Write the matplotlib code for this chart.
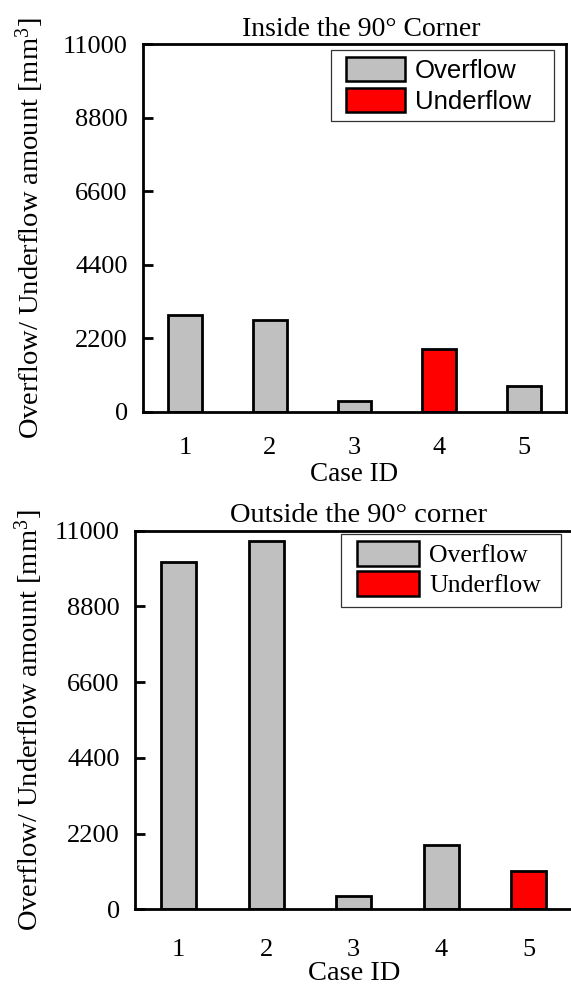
import matplotlib
matplotlib.use("Agg")
import matplotlib.pyplot as plt
from matplotlib.patches import Patch, Rectangle

plt.rcParams['font.family'] = ['Liberation Serif', 'DejaVu Serif']
plt.rcParams['mathtext.fontset'] = 'custom'
plt.rcParams['mathtext.rm'] = 'Liberation Serif'
plt.rcParams['mathtext.it'] = 'Liberation Serif:italic'

# Data
case_ids = [1, 2, 3, 4, 5]
inside_values = [2900, 2750, 330, 1890, 770]
inside_kind = ['Overflow', 'Overflow', 'Overflow', 'Underflow', 'Overflow']
outside_values = [10080, 10690, 400, 1885, 1110]
outside_kind = ['Overflow', 'Overflow', 'Overflow', 'Overflow', 'Underflow']
y_ticks = [0, 2200, 4400, 6600, 8800, 11000]

colors = {'Overflow': '#C0C0C0', 'Underflow': '#FF0000'}
ylabel = 'Overflow/ Underflow amount [mm$^{3}$]'

fig = plt.figure(figsize=(5.71, 9.85), dpi=100)
ax1 = fig.add_axes([0.2504, 0.582, 0.7408, 0.3733])
ax2 = fig.add_axes([0.2364, 0.0767, 0.7662, 0.3847])


def draw_panel(ax, values, kinds, title, title_x, title_fs, xpad, xlabel_fs, xlabel_pad,
               label_x, leg_opts, frame):
    ax.bar(case_ids, values, width=0.4, color=[colors[k] for k in kinds],
           edgecolor='black', linewidth=2.0, zorder=2)
    ax.set_xlim(0.5, 5.5)
    ax.set_ylim(0, 11000)
    ax.set_yticks(y_ticks)
    ax.set_xticks(case_ids)
    ax.tick_params(axis='y', direction='in', length=7, width=2, pad=11, labelsize=19)
    ax.tick_params(axis='x', length=0, pad=xpad, labelsize=19)
    for s in ax.spines.values():
        s.set_linewidth(2)
    ax.set_title(title, fontsize=title_fs, pad=6, x=title_x)
    ax.set_xlabel('Case ID', fontsize=xlabel_fs, labelpad=xlabel_pad)
    ax.set_ylabel(ylabel, fontsize=20.5)
    ax.yaxis.set_label_coords(label_x, 0.5)

    # legend frame drawn separately so the padding can match the original
    x0, y0, x1, y1 = frame
    ax.add_patch(Rectangle((x0, y0), x1 - x0, y1 - y0, transform=ax.transAxes,
                           facecolor='white', edgecolor='#333333', linewidth=0.9,
                           zorder=4, clip_on=False))
    handles = [Patch(facecolor=colors['Overflow'], edgecolor='black', linewidth=1.8, label='Overflow'),
               Patch(facecolor=colors['Underflow'], edgecolor='black', linewidth=1.8, label='Underflow')]
    leg = ax.legend(handles=handles, loc='upper left', borderaxespad=0, borderpad=0,
                    frameon=False, handletextpad=0.4, **leg_opts)
    leg.set_zorder(5)


draw_panel(ax1, inside_values, inside_kind, 'Inside the 90° Corner', 0.515, 20, 18, 19.5, 2,
           -0.229,
           dict(bbox_to_anchor=(0.480, 0.9638), prop={'family': 'Liberation Sans', 'size': 18.5},
                handlelength=2.28, handleheight=1.05, labelspacing=0.2),
           (0.4437, 0.7906, 0.9716, 0.9837))
draw_panel(ax2, outside_values, outside_kind, 'Outside the 90° corner', 0.51, 20.5, 21, 20.5, 0,
           -0.206,
           dict(bbox_to_anchor=(0.5074, 0.9731), prop={'family': 'Liberation Serif', 'size': 18.5},
                handlelength=2.4, handleheight=1.15, labelspacing=0.13),
           (0.470, 0.7974, 0.973, 0.99))

fig.savefig('out.png', dpi=100)
plt.close(fig)
